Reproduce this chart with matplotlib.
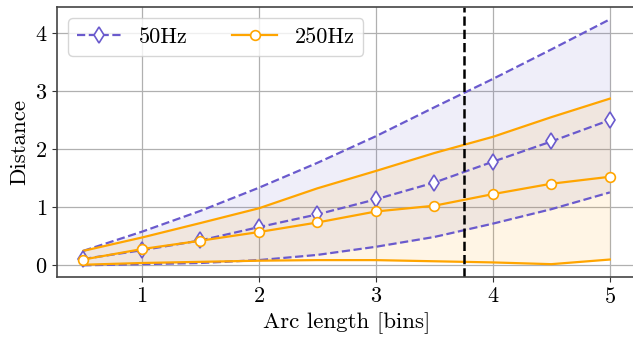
"""
Distance vs arc length for two sampling rates, mean with min/max band.

Output: out.png
"""
import matplotlib.pyplot as plt

plt.rcParams["font.family"] = ["cmr10", "DejaVu Serif"]
plt.rcParams["mathtext.fontset"] = "cm"
plt.rcParams["axes.formatter.use_mathtext"] = True

arc_length = [0.5, 1.0, 1.5, 2.0, 2.5, 3.0, 3.5, 4.0, 4.5, 5.0]

# 50Hz: mean, upper and lower bound
hz50_mean = [0.10, 0.25, 0.42, 0.65, 0.87, 1.13, 1.42, 1.78, 2.13, 2.50]
hz50_upper = [0.24, 0.57, 0.93, 1.33, 1.76, 2.22, 2.72, 3.21, 3.72, 4.24]
hz50_lower = [-0.01, 0.01, 0.03, 0.08, 0.17, 0.31, 0.48, 0.71, 0.96, 1.25]

# 250Hz: mean, upper and lower bound
hz250_mean = [0.09, 0.27, 0.415, 0.565, 0.73, 0.92, 1.02, 1.22, 1.40, 1.52]
hz250_upper = [0.24, 0.47, 0.72, 0.975, 1.32, 1.62, 1.93, 2.21, 2.55, 2.87]
hz250_lower = [0.00, 0.03, 0.05, 0.07, 0.08, 0.08, 0.06, 0.04, 0.01, 0.09]

cutoff = 3.75

C50 = "#6a5acd"
C250 = "#ffa500"


def main() -> None:
    fig = plt.figure(figsize=(6.33, 3.37), dpi=100)
    ax = fig.add_axes([0.090, 0.178, 0.915, 0.801])

    # --- bands ---
    ax.fill_between(arc_length, hz50_lower, hz50_upper, color=C50, alpha=0.1, lw=0)
    ax.fill_between(arc_length, hz250_lower, hz250_upper, color=C250, alpha=0.1, lw=0)
    ax.plot(arc_length, hz50_upper, "--", color=C50, lw=1.6)
    ax.plot(arc_length, hz50_lower, "--", color=C50, lw=1.6)
    ax.plot(arc_length, hz250_upper, "-", color=C250, lw=1.6)
    ax.plot(arc_length, hz250_lower, "-", color=C250, lw=1.6)

    # --- means ---
    ax.plot(arc_length, hz50_mean, "--", color=C50, lw=1.6, marker="d",
            ms=8.5, mfc="white", mec=C50, mew=1.2, label="50Hz")
    ax.plot(arc_length, hz250_mean, "-", color=C250, lw=1.6, marker="o",
            ms=7, mfc="white", mec=C250, mew=1.2, label="250Hz")

    ax.axvline(cutoff, color="black", ls="--", lw=1.8)

    ax.set_xlim(0.275, 5.225)
    ax.set_ylim(-0.212, 4.452)
    ax.set_xticks([1, 2, 3, 4, 5])
    ax.set_yticks([0, 1, 2, 3, 4])
    ax.tick_params(labelsize=16, color="#333333")
    ax.grid(True, color="#b0b0b0", lw=0.9)
    ax.set_axisbelow(True)
    for s in ax.spines.values():
        s.set_color("#444444")
        s.set_linewidth(1.2)

    ax.set_xlabel("Arc length [bins]", fontsize=16.5)
    ax.set_ylabel("Distance", fontsize=16.5)
    ax.legend(loc="upper left", ncol=2, fontsize=16)

    fig.savefig("out.png", dpi=100)
    plt.close(fig)


if __name__ == "__main__":
    main()
